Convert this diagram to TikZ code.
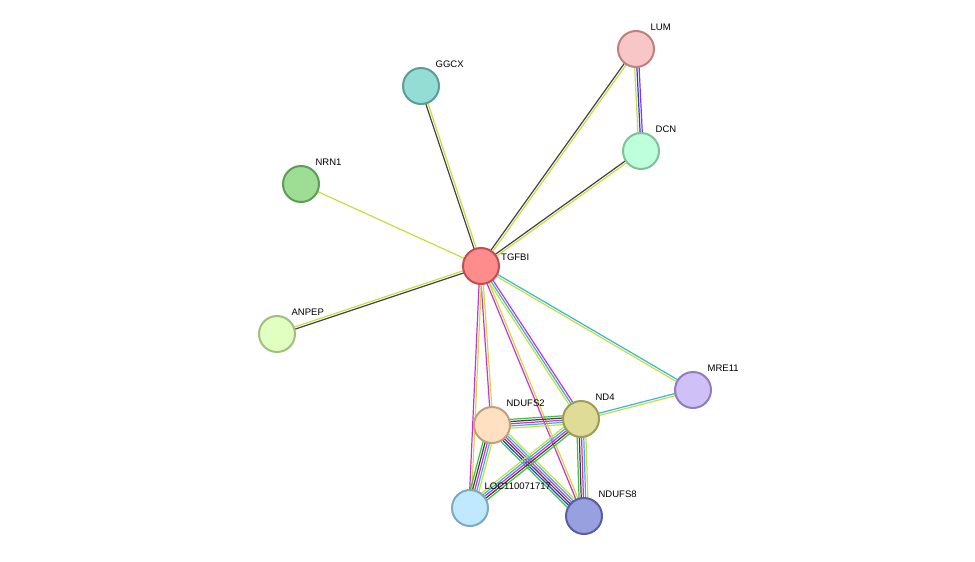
\documentclass[tikz,border=0pt]{standalone}
\usepackage{fontspec}
\setmainfont{Liberation Sans}
\usetikzlibrary{calc,backgrounds}
\definecolor{tmyel}{RGB}{199,222,60}
\definecolor{coblk}{RGB}{64,64,64}
\definecolor{dbcyn}{RGB}{48,184,216}
\definecolor{exmag}{RGB}{208,48,208}
\definecolor{nbgrn}{RGB}{64,192,64}
\definecolor{cfblu}{RGB}{48,48,240}
\definecolor{cfvio}{RGB}{120,60,220}
\tikzset{
  prot/.style={circle,minimum size=36pt,inner sep=0pt,line width=2pt},
  lbl/.style={font=\fontsize{9.5}{11}\selectfont,anchor=south west,inner sep=1pt}
}
% edge as parallel coloured lines: #1 from, #2 to, #3 count, #4 colours
\newcommand{\stredge}[4]{
  \foreach \c [count=\i] in {#4}{
    \pgfmathsetmacro\off{(\i-1-(#3-1)/2)*2.2}
    \draw[\c,line width=1.2pt] ($(#1.center)!\off pt!90:(#2.center)$) -- ($(#2.center)!\off pt!-90:(#1.center)$);
  }
}
\begin{document}
\begin{tikzpicture}[x=1pt,y=-1pt]
  \useasboundingbox (0,0) rectangle (975,562);

  %% proteins
  \node[prot,fill={rgb,255:red,255;green,140;blue,140},draw={rgb,255:red,192;green,80;blue,80}] (tgfbi) at (481,266) {};
  \node[prot,fill={rgb,255:red,248;green,198;blue,198},draw={rgb,255:red,192;green,128;blue,128}] (lum) at (636,49) {};
  \node[prot,fill={rgb,255:red,190;green,255;blue,220},draw={rgb,255:red,128;green,192;blue,154}] (dcn) at (641,151) {};
  \node[prot,fill={rgb,255:red,148;green,221;blue,212},draw={rgb,255:red,90;green,158;blue,150}] (ggcx) at (421,86) {};
  \node[prot,fill={rgb,255:red,158;green,222;blue,148},draw={rgb,255:red,94;green,158;blue,84}] (nrn1) at (301,184) {};
  \node[prot,fill={rgb,255:red,224;green,255;blue,192},draw={rgb,255:red,160;green,192;blue,128}] (anpep) at (277,334) {};
  \node[prot,fill={rgb,255:red,208;green,192;blue,248},draw={rgb,255:red,142;green,126;blue,192}] (mre11) at (693,390) {};
  \node[prot,fill={rgb,255:red,222;green,220;blue,150},draw={rgb,255:red,158;green,156;blue,86}] (nd4) at (581,419) {};
  \node[prot,fill={rgb,255:red,255;green,224;blue,192},draw={rgb,255:red,192;green,160;blue,128}] (ndufs2) at (492,425) {};
  \node[prot,fill={rgb,255:red,192;green,232;blue,255},draw={rgb,255:red,128;green,168;blue,192}] (loc) at (470,508) {};
  \node[prot,fill={rgb,255:red,152;green,160;blue,224},draw={rgb,255:red,88;green,96;blue,160}] (ndufs8) at (584,516) {};

  %% labels
  \node[lbl] at ([shift={(0,-4)}]tgfbi.east) {TGFBI};
  \node[lbl] at ([shift={(0,-4)}]lum.north east) {LUM};
  \node[lbl] at ([shift={(0,-4)}]dcn.north east) {DCN};
  \node[lbl] at ([shift={(0,-4)}]ggcx.north east) {GGCX};
  \node[lbl] at ([shift={(0,-4)}]nrn1.north east) {NRN1};
  \node[lbl] at ([shift={(0,-4)}]anpep.north east) {ANPEP};
  \node[lbl] at ([shift={(0,-4)}]mre11.north east) {MRE11};
  \node[lbl] at ([shift={(0,-4)}]nd4.north east) {ND4};
  \node[lbl] at ([shift={(0,-4)}]ndufs2.north east) {NDUFS2};
  \node[lbl] at ([shift={(0,-4)}]loc.north east) {LOC110071717};
  \node[lbl] at ([shift={(0,-4)}]ndufs8.north east) {NDUFS8};

  %% interactions
  \begin{scope}[on background layer]
    \stredge{tgfbi}{lum}{2}{tmyel,coblk}
    \stredge{tgfbi}{dcn}{2}{tmyel,coblk}
    \stredge{tgfbi}{ggcx}{2}{tmyel,coblk}
    \stredge{tgfbi}{nrn1}{1}{tmyel}
    \stredge{tgfbi}{anpep}{2}{tmyel,coblk}
    \stredge{tgfbi}{mre11}{2}{tmyel,dbcyn}
    \stredge{tgfbi}{nd4}{3}{tmyel,dbcyn,exmag}
    \stredge{tgfbi}{ndufs2}{2}{exmag,tmyel}
    \stredge{tgfbi}{loc}{2}{exmag,tmyel}
    \stredge{tgfbi}{ndufs8}{2}{exmag,tmyel}
    \stredge{lum}{dcn}{3}{tmyel,cfblu,cfvio}
    \stredge{nd4}{mre11}{2}{tmyel,dbcyn}
    \stredge{ndufs2}{nd4}{5}{tmyel,dbcyn,exmag,coblk,nbgrn}
    \stredge{ndufs2}{loc}{5}{nbgrn,coblk,exmag,dbcyn,tmyel}
    \stredge{ndufs2}{ndufs8}{6}{nbgrn,cfblu,coblk,exmag,dbcyn,tmyel}
    \stredge{nd4}{loc}{5}{tmyel,dbcyn,exmag,coblk,nbgrn}
    \stredge{nd4}{ndufs8}{5}{nbgrn,coblk,exmag,dbcyn,tmyel}
  \end{scope}
\end{tikzpicture}
\end{document}
